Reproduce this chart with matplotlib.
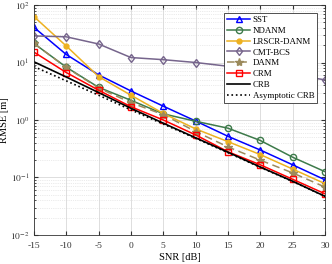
import matplotlib
matplotlib.use('Agg')
import matplotlib.pyplot as plt

plt.rcParams['font.family'] = 'Liberation Serif'
plt.rcParams['mathtext.fontset'] = 'stix'

snr = [-15, -10, -5, 0, 5, 10, 15, 20, 25, 30]

sst = [41, 13.8, 6.1, 3.2, 1.74, 0.96, 0.52, 0.30, 0.166, 0.091]
ndanm = [21.5, 8.3, 3.7, 2.2, 1.28, 0.95, 0.72, 0.44, 0.225, 0.126]
lrscr = [63, 19.4, 5.7, 2.7, 1.3, 0.70, 0.42, 0.25, 0.14, 0.078]
cmt = [29, 28, 21, 12.2, 11.2, 10.0, 8.6, 7.3, 6.1, 5.0]
danm = [21.5, 8.2, 3.6, 2.0, 1.24, 0.63, 0.34, 0.20, 0.12, 0.068]
crm = [15.2, 6.7, 3.3, 1.7, 1.0, 0.55, 0.28, 0.166, 0.093, 0.052]
crb = [10.3, 5.6, 3.0, 1.6, 0.88, 0.49, 0.275, 0.152, 0.086, 0.047]
acrb = [8.5, 4.8, 2.7, 1.5, 0.85, 0.48, 0.27, 0.15, 0.085, 0.047]

fig = plt.figure(figsize=(3.32, 2.64), dpi=100)
ax = fig.add_axes([0.102, 0.110, 0.877, 0.871])

ms = 4.5
ax.plot(snr, sst, color='#0000ff', marker='^', mfc='none', ms=ms, lw=1.1, label='SST')
ax.plot(snr, ndanm, color='#3d7a4a', marker='o', mfc='none', ms=ms, lw=1.1, label='NDANM')
ax.plot(snr, lrscr, color='#edb120', marker='o', ms=3.5, lw=1.1, label='LRSCR-DANM')
ax.plot(snr, cmt, color='#76658c', marker='d', mfc='none', ms=ms, lw=1.1, label='CMT-BCS')
ax.plot(snr, danm, color='#9c8a5c', marker='*', ms=6, lw=1.1, ls=(0, (5, 3)), label='DANM')
ax.plot(snr, crm, color='#ff0000', marker='s', mfc='none', ms=4, lw=1.1, label='CRM')
ax.plot(snr, crb, color='black', lw=1.2, label='CRB')
ax.plot(snr, acrb, color='black', lw=1.2, ls=':', label='Asymptotic CRB')

ax.set_yscale('log')
ax.set_xlim(-15, 30)
ax.set_ylim(1e-2, 1e2)
ax.set_xticks(snr)
ax.set_xticklabels(['-15', '-10', '-5', '0', '5', '10', '15', '20', '25', '30'])
ax.set_yticks([1e-2, 1e-1, 1e0, 1e1, 1e2])
ax.set_yticklabels(['$10^{-2}$', '$10^{-1}$', '$10^{0}$', '$10^{1}$', '$10^{2}$'])
ax.grid(True, which='major', color='#d8d8d8', lw=0.6)
ax.grid(True, which='minor', color='#d8d8d8', lw=0.5, ls=':')
ax.tick_params(which='both', direction='in', top=True, right=True, labelsize=6.8, colors='#333333')
ax.tick_params(axis='x', pad=5)
ax.tick_params(axis='y', pad=3)
ax.tick_params(which='major', length=3)
ax.tick_params(which='minor', length=1.5)
for s in ax.spines.values():
    s.set_color('#333333')
    s.set_linewidth(0.6)

ax.set_xlabel('SNR [dB]', fontsize=7.5, labelpad=2)
ax.set_ylabel('RMSE [m]', fontsize=7.5, labelpad=1)

leg = ax.legend(loc='upper right', fontsize=6.4, labelspacing=0.3, handlelength=2.6,
                handletextpad=0.3, borderpad=0.3, borderaxespad=0.9, fancybox=False,
                framealpha=1, edgecolor='#333333')
leg.get_frame().set_linewidth(0.6)

plt.savefig('out.png', dpi=100)
